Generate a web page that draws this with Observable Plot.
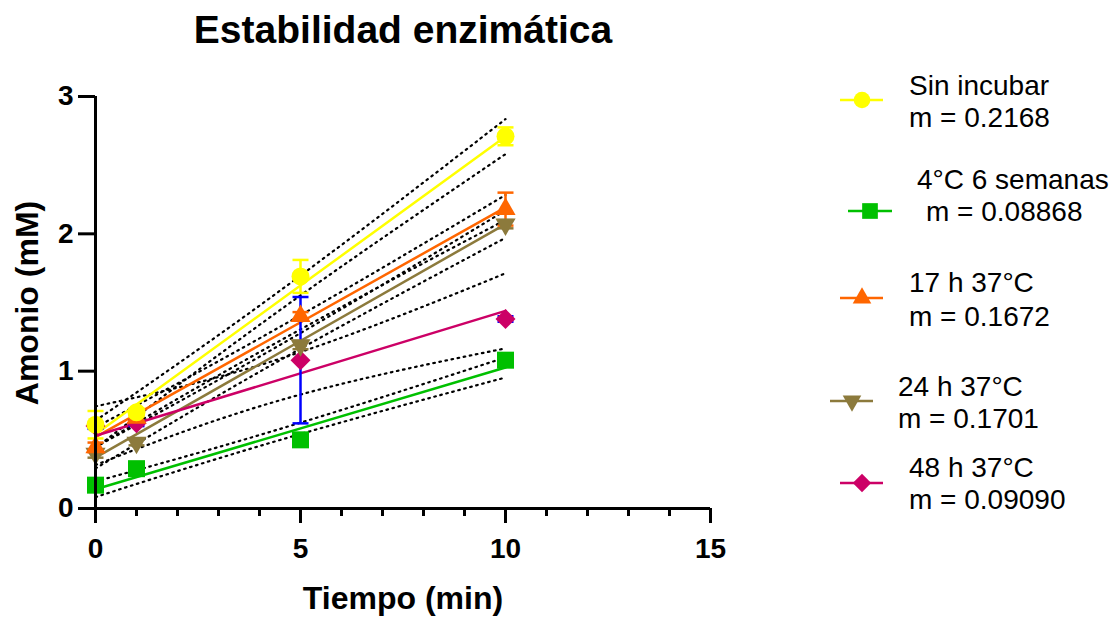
<!DOCTYPE html>
<html><head><meta charset="utf-8">
<script src="https://cdn.jsdelivr.net/npm/d3@7"></script>
<script src="https://cdn.jsdelivr.net/npm/@observablehq/plot@0.6"></script>
<style>
body{margin:0;background:#fff;font-family:"Liberation Sans",Arial,sans-serif}
#chart svg{display:block}
</style>
</head><body><div id="chart"></div>
<script>
// ---- data ----
const times = [0, 1, 5, 10];
const seriesNames = ["Sin incubar", "4°C 6 semanas", "17 h 37°C", "24 h 37°C", "48 h 37°C"];
const slopeText = ["m = 0.2168", "m = 0.08868", "m = 0.1672", "m = 0.1701", "m = 0.09090"];
const slopes = [0.2168, 0.08868, 0.1672, 0.1701, 0.0909];
const intercepts = [0.54, 0.14, 0.52, 0.37, 0.53];
const ciHalfAtMean = [0.07, 0.04, 0.05, 0.055, 0.15];

const sinIncubar = [0.61, 0.70, 1.69, 2.71];
const sinIncubarErr = [0.10, 0.03, 0.12, 0.065];
const cuatroC = [0.17, 0.29, 0.50, 1.08];
const cuatroCErr = [0.02, 0.02, 0.02, 0.02];
const h17 = [0.445, 0.66, 1.40, 2.18];
const h17Err = [0.035, 0.02, 0.03, 0.12];
const h24 = [0.40, 0.48, 1.19, 2.07];
const h24Err = [0.03, 0.02, 0.03, 0.03];
const h48 = [0.60, 0.62, 1.08, 1.38];
const h48Err = [0.02, 0.02, 0.46, 0.02];

const xTicks = [0, 5, 10, 15];
const yTicks = [0, 1, 2, 3];

// ---- styles ----
const colors = ["#FFFF00", "#00C000", "#FF6600", "#8C7A3C", "#CC0066"];
const errColors = ["#FFFF00", "#00C000", "#FF6600", "#8C7A3C", "#0000FF"];
const symbols = ["circle", "square", "triangle", "triangle", "diamond2"];
const rotations = [0, 0, 0, 180, 0];
const radii = [9, 9.6, 7.5, 7.5, 9];

const values = [sinIncubar, cuatroC, h17, h24, h48];
const errors = [sinIncubarErr, cuatroCErr, h17Err, h24Err, h48Err];

const points = [];
values.forEach((vals, s) => vals.forEach((v, j) => points.push({s, x: times[j], y: v, e: errors[s][j]})));

const fitData = [];
const bandData = [];
const xm = d3.mean(times);
values.forEach((vals, s) => {
  [0, 10].forEach(x => fitData.push({s, x, y: intercepts[s] + slopes[s] * x, c: colors[s]}));
  ["u", "l"].forEach(side => {
    d3.range(0, 10.001, 0.25).forEach(x => {
      const yhat = intercepts[s] + slopes[s] * x;
      const h = ciHalfAtMean[s] * Math.sqrt(1 / 12 + (x - xm) ** 2 / 186) / Math.sqrt(1 / 12);
      bandData.push({k: s + side, x, y: side === "u" ? yhat + h : yhat - h});
    });
  });
});

const capSymbol = {draw(ctx) { ctx.moveTo(-8, 0); ctx.lineTo(8, 0); }};

const errBars = points.map(p => ({...p, y1: p.y - p.e, y2: p.y + p.e, c: errColors[p.s]}));
const caps = errBars.flatMap(p => [{x: p.x, y: p.y1, c: p.c}, {x: p.x, y: p.y2, c: p.c}]);

const font = "Liberation Sans, Arial, sans-serif";
const order = [4, 3, 2, 1, 0];

const plot = Plot.plot({
  width: 1118, height: 617,
  marginLeft: 95, marginRight: 408, marginTop: 96, marginBottom: 109,
  x: {domain: [0, 15]},
  y: {domain: [0, 3]},
  color: {type: "identity"},
  style: {fontFamily: font, background: "#fff", overflow: "visible"},
  marks: [
    Plot.line(bandData, {x: "x", y: "y", z: "k", stroke: "black", strokeWidth: 2.2, strokeDasharray: "1.6,4.6"}),
    Plot.line(fitData, {x: "x", y: "y", z: "s", stroke: "c", strokeWidth: 2.5}),
    Plot.ruleX(errBars, {x: "x", y1: "y1", y2: "y2", stroke: "c", strokeWidth: 2.5}),
    Plot.dot(caps, {x: "x", y: "y", symbol: capSymbol, r: 8, fill: "none", stroke: "c", strokeWidth: 2.5}),
    ...order.map(s => Plot.dot(points.filter(p => p.s === s), {
      x: "x", y: "y", symbol: symbols[s], r: radii[s], rotate: rotations[s],
      fill: colors[s], stroke: "none"
    })),
    Plot.ruleY([0], {strokeWidth: 3}),
    Plot.ruleX([0], {strokeWidth: 3}),
    Plot.axisX({ticks: d3.range(0, 16).filter(v => v % 5 !== 0), tickSize: 8, text: null, strokeWidth: 3, label: null}),
    Plot.axisX({ticks: xTicks, tickSize: 15, tickPadding: 15, tickFormat: d3.format("d"), fontSize: 28, fontWeight: "bold", strokeWidth: 3, label: null, fill: "black"}),
    Plot.axisY({ticks: yTicks, tickSize: 17, tickPadding: 5, tickFormat: d3.format("d"), fontSize: 28, fontWeight: "bold", strokeWidth: 3, label: null, fill: "black"})
  ]
});

document.getElementById("chart").appendChild(plot);

const svg = d3.select(plot);
svg.append("text").attr("x", 403).attr("y", 43).attr("text-anchor", "middle")
  .attr("font-family", font).attr("font-size", 39).attr("font-weight", "bold").attr("fill", "black")
  .text("Estabilidad enzimática");
svg.append("text").attr("x", 403).attr("y", 609).attr("text-anchor", "middle")
  .attr("font-family", font).attr("font-size", 32).attr("font-weight", "bold").attr("fill", "black")
  .text("Tiempo (min)");
svg.append("text").attr("transform", "translate(38,303) rotate(-90)").attr("text-anchor", "middle")
  .attr("font-family", font).attr("font-size", 32).attr("font-weight", "bold").attr("fill", "black")
  .text("Amonio (mM)");

// legend layout
const legendLayout = [
  {sx: 862, sy: 100, lx1: 840, lx2: 883, tx1: 909, tx2: 909, ty1: 85, ty2: 117},
  {sx: 870, sy: 211, lx1: 848, lx2: 892, tx1: 917, tx2: 926, ty1: 179, ty2: 211},
  {sx: 862, sy: 298, lx1: 840, lx2: 883, tx1: 909, tx2: 909, ty1: 282, ty2: 316},
  {sx: 852, sy: 401, lx1: 830, lx2: 873, tx1: 898, tx2: 898, ty1: 386, ty2: 418},
  {sx: 862, sy: 483, lx1: 840, lx2: 883, tx1: 909, tx2: 909, ty1: 467, ty2: 499}
];
const d3sym = {circle: d3.symbolCircle, square: d3.symbolSquare, triangle: d3.symbolTriangle, diamond2: d3.symbolDiamond2};
const lg = svg.append("g").attr("text-anchor", "start");
seriesNames.forEach((name, s) => {
  const L = legendLayout[s];
  lg.append("line").attr("x1", L.lx1).attr("x2", L.lx2).attr("y1", L.sy).attr("y2", L.sy)
    .attr("stroke", colors[s]).attr("stroke-width", 2.5);
  lg.append("path").attr("d", d3.symbol(d3sym[symbols[s]], Math.PI * radii[s] * radii[s] * 0.85)())
    .attr("transform", `translate(${L.sx},${L.sy}) rotate(${rotations[s]})`).attr("fill", colors[s]);
  lg.append("text").attr("x", L.tx1).attr("y", L.ty1 + 10).attr("text-anchor", "start").attr("font-family", font).attr("font-size", 28)
    .attr("fill", "black").text(name);
  lg.append("text").attr("x", L.tx2).attr("y", L.ty2 + 10).attr("text-anchor", "start").attr("font-family", font).attr("font-size", 28)
    .attr("fill", "black").text(slopeText[s]);
});
</script>
</body></html>
